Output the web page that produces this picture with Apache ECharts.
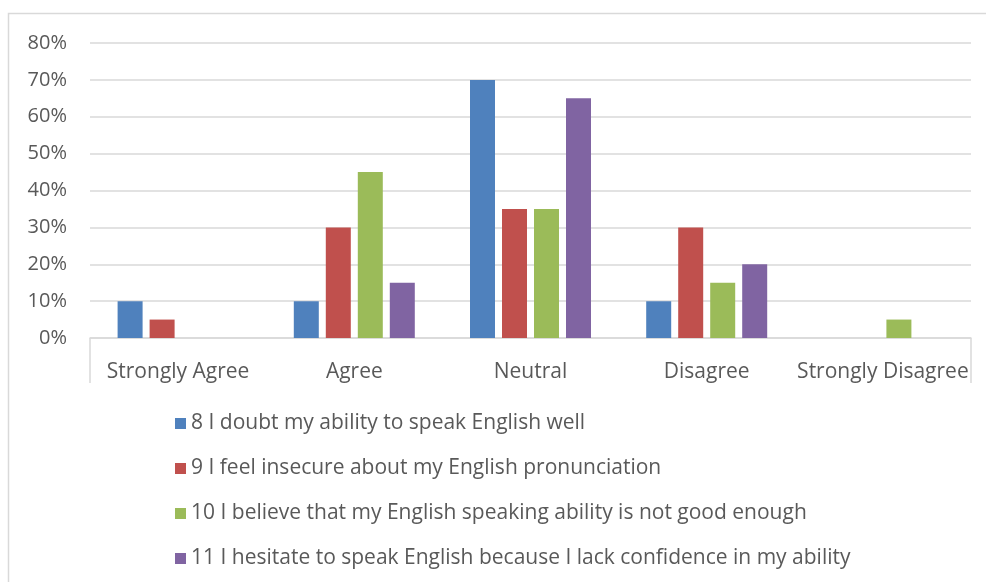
<!DOCTYPE html>
<html>
<head>
<meta charset="utf-8">
<script src="https://cdn.jsdelivr.net/npm/echarts@6/dist/echarts.min.js"></script>
<style>
  html, body { margin: 0; padding: 0; background: #fff; }
  #chart { width: 986px; height: 582px; }
</style>
</head>
<body>
<div id="chart"></div>
<script>
// Survey response categories
const categories = ['Strongly Agree', 'Agree', 'Neutral', 'Disagree', 'Strongly Disagree'];

// Item statements (legend names)
const seriesNames = [
  '8 I doubt my ability to speak English well',
  '9 I feel insecure about my English pronunciation',
  '10 I believe that my English speaking ability is not good enough',
  '11 I hesitate to speak English because I lack confidence in my ability'
];

// Percentage of respondents per category
const item8 = [10, 10, 70, 10, 0];
const item9 = [5, 30, 35, 30, 0];
const item10 = [0, 45, 35, 15, 5];
const item11 = [0, 15, 65, 20, 0];

const yTicks = [0, 10, 20, 30, 40, 50, 60, 70, 80];

const colors = ['#4f81bd', '#c0504d', '#9bbb59', '#8064a2'];
const values = [item8, item9, item10, item11];

const FONT = '"Open Sans", Lato, sans-serif';
const FONT_SIZE = 21;
const GRID_LEFT = 90, GRID_RIGHT = 15, GRID_TOP = 43, GRID_BOTTOM = 582 - 338;

const chart = echarts.init(document.getElementById('chart'));
chart.setOption({
  animation: false,
  color: colors,
  grid: { left: GRID_LEFT, right: GRID_RIGHT, top: GRID_TOP, bottom: GRID_BOTTOM, containLabel: false },
  legend: {
    orient: 'vertical',
    left: 170,
    top: 408,
    itemWidth: 11,
    itemHeight: 11,
    itemGap: 24,
    icon: 'rect',
    data: seriesNames,
    textStyle: { fontFamily: FONT, fontSize: FONT_SIZE, color: '#595959', padding: [0, 0, 0, 0] }
  },
  xAxis: {
    type: 'category',
    data: categories,
    axisLine: { show: true, lineStyle: { color: '#d9d9d9', width: 1.5 } },
    axisTick: { show: false },
    axisLabel: { fontFamily: FONT, fontSize: FONT_SIZE, color: '#595959', margin: 24, interval: 0 }
  },
  yAxis: {
    type: 'value',
    min: yTicks[0],
    max: yTicks[yTicks.length - 1],
    interval: yTicks[1] - yTicks[0],
    axisLine: { show: false },
    axisTick: { show: false },
    splitLine: { lineStyle: { color: '#d9d9d9', width: 1.5 } },
    axisLabel: { formatter: '{value}%', fontFamily: FONT, fontSize: FONT_SIZE - 1, color: '#595959', margin: 23 }
  },
  series: seriesNames.map((name, i) => ({
    name,
    type: 'bar',
    data: values[i],
    barWidth: 25,
    barGap: '28%',
    itemStyle: { color: colors[i] }
  })),
  graphic: [
    // outer chart frame
    { type: 'rect', shape: { x: 8.5, y: 13.5, width: 990, height: 600 },
      style: { fill: 'none', stroke: '#d9d9d9', lineWidth: 1.5 }, silent: true },
    // end ticks of the category axis
    { type: 'line', shape: { x1: GRID_LEFT, y1: 582 - GRID_BOTTOM, x2: GRID_LEFT, y2: 383 },
      style: { stroke: '#d9d9d9', lineWidth: 1.5 }, silent: true },
    { type: 'line', shape: { x1: 986 - GRID_RIGHT, y1: 582 - GRID_BOTTOM, x2: 986 - GRID_RIGHT, y2: 383 },
      style: { stroke: '#d9d9d9', lineWidth: 1.5 }, silent: true }
  ]
});
</script>
</body>
</html>
